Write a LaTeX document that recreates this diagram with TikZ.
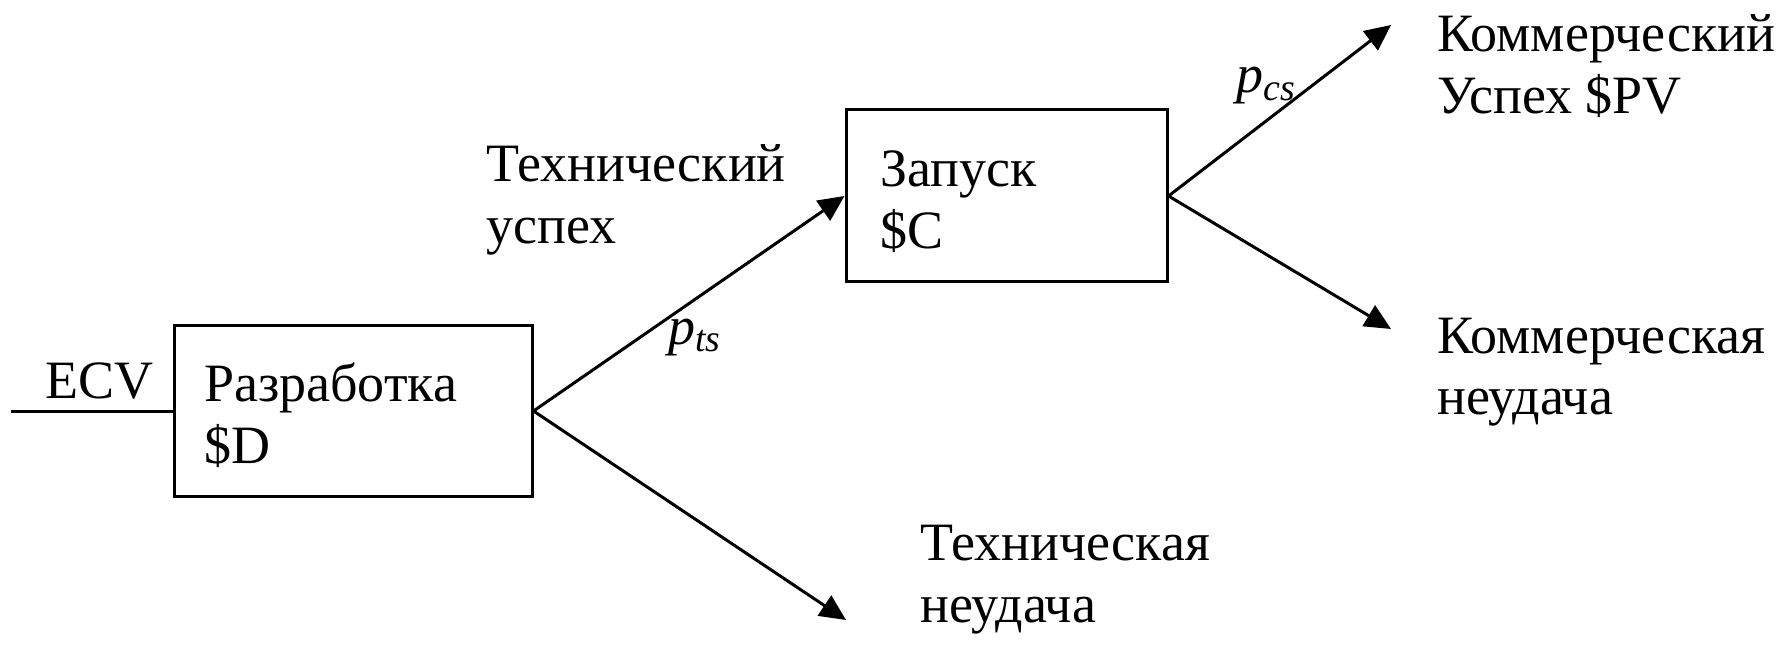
\documentclass[tikz,border=0pt]{standalone}
\usepackage{fontspec}
\setmainfont{Liberation Serif}
\usetikzlibrary{arrows.meta}
\newcommand{\upstrut}{\rule{0pt}{23.5pt}}
\begin{document}
\begin{tikzpicture}[x=0.5pt,y=-0.5pt,
  every node/.style={font=\fontsize{27pt}{31pt}\selectfont},
  box/.style={draw, line width=1.5pt, align=left, anchor=center, inner ysep=0pt},
  conn/.style={line width=1.5pt},
  arr/.style={conn, -{Triangle[length=13pt,width=12pt]}},
  lbl/.style={anchor=base west, align=left, inner sep=0pt}]
\useasboundingbox[fill=white] (0,0) rectangle (1781,646);
% boxes
\node[box, minimum width=179pt, minimum height=85pt, text width=149pt, inner xsep=15pt] (dev) at (353,411) {\upstrut Разработка\\\$D};
\node[box, minimum width=160.5pt, minimum height=86pt, text width=126.5pt, inner xsep=17pt] (lau) at (1006.5,196) {\upstrut Запуск\\\$C};
% free ends
\coordinate (start) at (11,411);
\coordinate (tf) at (846,620);
\coordinate (cs) at (1391,25);
\coordinate (cf) at (1391,329);
% connectors
\draw[conn] (start) -- (dev.west);
\draw[arr] (dev.east) -- (lau.west);
\draw[arr] (dev.east) -- (tf);
\draw[arr] (lau.east) -- (cs);
\draw[arr] (lau.east) -- (cf);
% labels (base = baseline of last line)
\node[lbl] (ecv) at (45,398) {ECV};
\node[lbl] (ts) at (486,244) {Технический\\успех};
\node[lbl] (tfl) at (920,622) {Техническая\\неудача};
\node[lbl] (csl) at (1437,114) {Коммерческий\\Успех \$PV};
\node[lbl] (cfl) at (1437,415) {Коммерческая\\неудача};
\node[lbl] (pts) at (668,344) {\itshape p\textsubscript{ts}};
\node[lbl] (pcs) at (1236,93) {\itshape p\textsubscript{cs}};
\end{tikzpicture}
\end{document}
